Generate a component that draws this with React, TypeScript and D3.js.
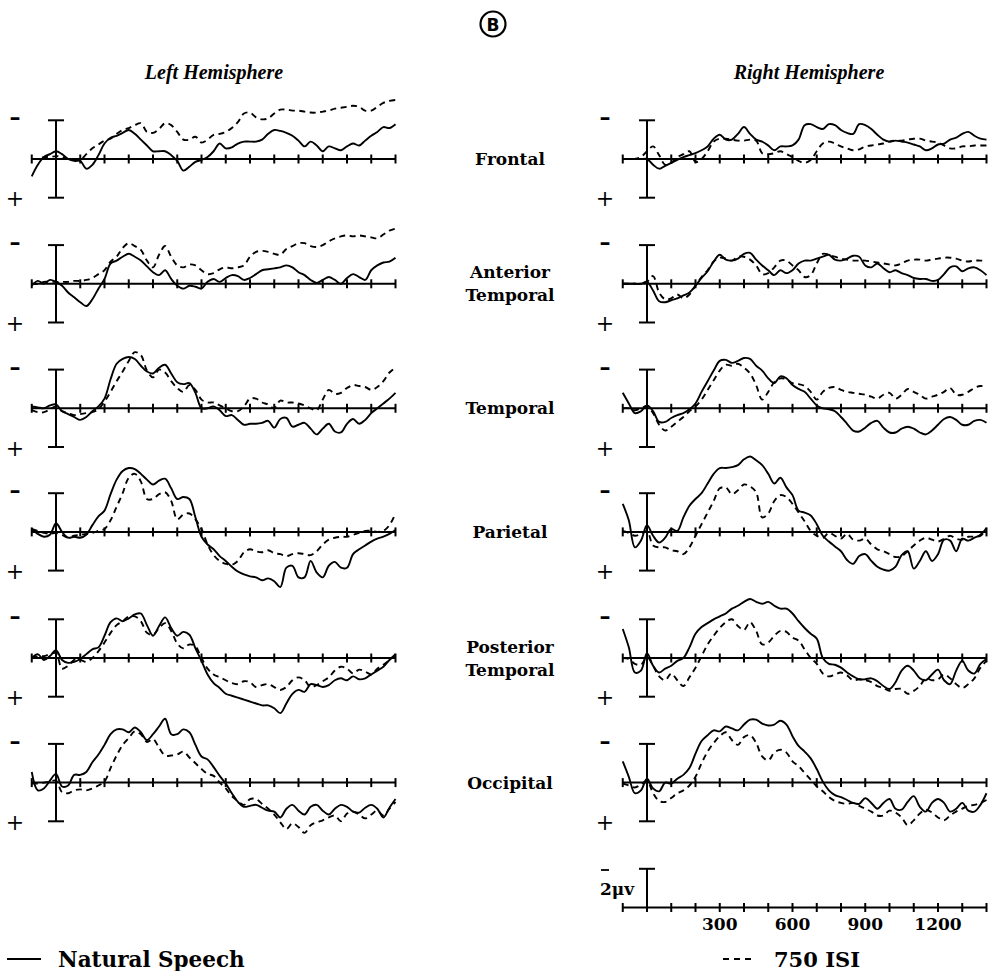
import React from "react";
import * as d3 from "d3";

// ---- categories / labels ----
const times = d3.range(-100, 1401, 25); // sample grid (ms)
const tickTimes = d3.range(-100, 1401, 100);
const regionLabels = [["Frontal"], ["Anterior", "Temporal"], ["Temporal"], ["Parietal"], ["Posterior", "Temporal"], ["Occipital"]];
const hemisphereLabels = ["Left Hemisphere", "Right Hemisphere"];
const legendLabels = ["Natural Speech", "750 ISI"];
const scaleTickLabels = [300, 600, 900, 1200];
const scaleUnitLabel = "2\u03bcv";
const panelLetter = "B";

// ---- series values (µV, negative plotted up) ----
const frontalLeftSpeech = [0.9, 0.3, -0.1, -0.25, -0.4, -0.25, 0, 0.1, 0.1, 0.5, 0.3, -0.2, -0.8, -1.1, -1.2, -1.35, -1.5, -1.3, -1.0, -0.7, -0.4, -0.4, -0.4, -0.2, 0.1, 0.6, 0.4, 0.15, 0.05, -0.1, -0.4, -0.8, -0.55, -0.6, -0.8, -0.9, -0.9, -0.9, -1.0, -1.3, -1.5, -1.45, -1.35, -1.2, -0.95, -0.65, -0.9, -0.7, -0.4, -0.65, -0.55, -0.45, -0.65, -0.8, -0.7, -0.95, -1.2, -1.4, -1.65, -1.6, -1.8];
const frontalLeftISI = [0, 0, -0.1, -0.1, -0.15, -0.1, 0, 0.05, 0.05, -0.25, -0.55, -0.75, -0.95, -1.05, -1.3, -1.5, -1.6, -1.75, -1.85, -1.4, -1.35, -1.55, -1.85, -1.75, -1.4, -1.0, -1.0, -1.15, -0.85, -1.0, -1.25, -1.3, -1.4, -1.6, -1.9, -2.35, -2.4, -2.15, -2.05, -2.1, -2.35, -2.55, -2.55, -2.5, -2.5, -2.45, -2.4, -2.4, -2.45, -2.5, -2.6, -2.65, -2.7, -2.75, -2.7, -2.5, -2.5, -2.7, -2.9, -3.0, -3.05];
const frontalRightSpeech = [0, 0, 0, 0, 0, 0.3, 0.5, 0.35, 0.2, 0.05, -0.1, -0.2, -0.3, -0.45, -0.65, -1.05, -1.25, -1.0, -1.0, -1.3, -1.65, -1.3, -1.0, -0.9, -0.7, -0.45, -0.65, -0.65, -0.7, -1.0, -1.75, -1.8, -1.65, -1.55, -1.8, -1.75, -1.5, -1.35, -1.3, -1.8, -1.75, -1.55, -1.25, -1.0, -0.9, -0.95, -0.9, -0.85, -0.75, -0.65, -0.45, -0.55, -0.75, -0.8, -1.0, -1.1, -1.3, -1.4, -1.2, -1.05, -1.0];
const frontalRightISI = [0, 0, 0, -0.1, -0.4, -0.65, -0.2, 0.3, 0.2, -0.1, -0.25, -0.4, 0.15, 0, -0.4, -0.9, -1.05, -1.05, -1.0, -0.95, -0.95, -1.0, -0.95, -0.3, -0.25, -0.3, -0.4, -0.25, -0.1, 0.1, 0.2, 0.05, -0.4, -0.8, -0.9, -0.8, -0.65, -0.55, -0.45, -0.5, -0.65, -0.7, -0.75, -0.8, -0.9, -0.95, -0.95, -1.0, -1.05, -1.05, -0.95, -0.9, -0.85, -0.7, -0.55, -0.55, -0.65, -0.65, -0.7, -0.7, -0.7];

const antTempLeftSpeech = [0.1, -0.15, 0, -0.2, -0.1, 0.1, 0.45, 0.7, 0.95, 1.15, 0.8, 0.25, -0.25, -1.05, -1.2, -1.4, -1.55, -1.4, -1.2, -0.9, -0.6, -0.45, -0.7, -0.25, 0.1, 0.25, 0.1, 0.15, 0.25, -0.1, -0.25, -0.1, -0.3, -0.45, -0.4, -0.2, -0.3, -0.5, -0.7, -0.75, -0.8, -0.85, -0.95, -0.85, -0.6, -0.45, -0.2, -0.05, -0.2, -0.35, -0.2, 0, -0.3, -0.5, -0.35, -0.2, -0.7, -0.95, -1.1, -1.15, -1.35];
const antTempLeftISI = [0, 0, -0.1, -0.1, -0.1, -0.1, -0.1, -0.15, -0.15, -0.2, -0.3, -0.5, -0.7, -1.15, -1.4, -1.85, -2.1, -1.95, -1.75, -1.2, -0.85, -1.5, -1.95, -1.4, -0.95, -0.85, -1.0, -0.95, -0.7, -0.5, -0.55, -0.75, -0.85, -0.8, -0.85, -0.95, -1.4, -1.65, -1.7, -1.65, -1.55, -1.5, -1.8, -1.95, -2.1, -2.1, -1.95, -1.9, -2.0, -2.2, -2.35, -2.45, -2.5, -2.45, -2.5, -2.45, -2.4, -2.35, -2.55, -2.75, -2.85];
const antTempRightSpeech = [0, 0, 0, 0, -0.1, 0.35, 0.9, 0.95, 0.85, 0.75, 0.6, 0.45, 0.1, -0.3, -0.65, -1.15, -1.5, -1.25, -1.2, -1.3, -1.55, -1.6, -1.25, -0.95, -0.7, -0.45, -0.7, -0.55, -0.7, -1.05, -1.2, -1.2, -1.3, -1.4, -1.5, -1.25, -1.2, -1.3, -1.45, -1.4, -0.95, -0.85, -1.05, -0.8, -0.6, -0.7, -0.55, -0.45, -0.3, -0.25, -0.25, -0.15, -0.2, -0.5, -0.85, -0.9, -0.65, -0.8, -0.85, -0.7, -0.45];
const antTempRightISI = [0, 0, 0, 0, -0.1, -0.4, 0.45, 0.8, 0.75, 0.55, 0.75, 0.55, 0.1, -0.35, -0.7, -1.15, -1.35, -1.3, -1.2, -1.4, -1.4, -1.25, -0.95, -0.5, -0.55, -0.85, -1.2, -1.2, -0.95, -0.7, -0.35, -0.45, -1.05, -1.55, -1.5, -1.4, -1.3, -1.25, -1.2, -1.2, -1.2, -1.15, -1.1, -1.05, -1.0, -0.95, -1.05, -1.2, -1.25, -1.25, -1.2, -1.25, -1.3, -1.35, -1.35, -1.3, -1.2, -1.15, -1.2, -1.2, -1.2];

const tempLeftSpeech = [-0.1, -0.05, 0, -0.15, -0.2, 0.15, 0.3, 0.45, 0.6, 0.45, 0.15, -0.1, -0.5, -1.5, -2.3, -2.55, -2.65, -2.55, -2.2, -1.9, -1.8, -2.1, -2.25, -1.8, -1.35, -1.25, -1.3, -0.8, 0, 0, -0.1, 0.1, 0.4, 0.35, 0.6, 0.85, 0.8, 0.8, 0.75, 0.65, 1.0, 0.55, 0.5, 0.95, 0.85, 0.75, 1.05, 1.35, 1.05, 0.8, 1.2, 1.25, 0.8, 0.55, 0.8, 0.6, 0.25, 0, -0.25, -0.5, -0.8];
const tempLeftISI = [0.1, 0.2, 0.2, 0.05, -0.1, 0.15, 0.25, 0.35, 0.3, 0.25, 0.2, 0.05, -0.35, -0.85, -1.4, -1.9, -2.45, -2.9, -2.75, -1.95, -1.6, -2.0, -1.85, -1.4, -1.05, -0.85, -1.2, -0.95, -0.45, -0.3, -0.3, -0.15, 0, 0.15, 0.15, -0.1, -0.5, -0.5, -0.3, -0.2, 0, -0.4, -0.3, -0.3, -0.25, -0.15, 0, 0.1, -0.45, -0.95, -0.75, -0.8, -1.05, -1.2, -1.15, -1.1, -0.95, -1.1, -1.4, -1.85, -2.1];
const tempRightSpeech = [-0.8, -0.25, 0.25, 0.15, -0.15, 0.15, 0.7, 0.7, 0.5, 0.35, 0.25, 0.05, -0.25, -0.85, -1.4, -1.95, -2.45, -2.5, -2.35, -2.45, -2.6, -2.55, -2.2, -1.95, -1.55, -1.3, -1.65, -1.55, -1.2, -1.0, -0.85, -0.5, -0.15, 0, 0.05, 0.15, 0.45, 0.8, 1.15, 1.2, 1.0, 0.75, 0.65, 1.0, 1.25, 1.25, 1.05, 0.95, 1.05, 1.25, 1.35, 1.15, 0.85, 0.55, 0.45, 0.6, 0.85, 0.85, 0.65, 0.6, 0.75];
const tempRightISI = [0, 0, 0.1, 0, -0.1, 0.25, 0.85, 1.15, 0.95, 0.7, 0.45, 0.15, -0.1, -0.45, -0.95, -1.45, -1.95, -2.25, -2.2, -2.3, -2.1, -1.8, -1.2, -0.45, -0.85, -1.35, -1.55, -1.5, -1.3, -1.25, -1.15, -0.85, -0.45, -0.85, -1.05, -1.1, -0.95, -0.85, -0.8, -0.75, -0.7, -0.6, -0.5, -0.7, -0.8, -0.5, -0.7, -1.0, -0.85, -0.7, -0.5, -0.6, -0.7, -0.85, -1.05, -0.7, -0.7, -0.85, -1.05, -1.15, -1.1];

const parLeftSpeech = [-0.15, 0.1, 0.25, 0.15, -0.45, 0, 0.3, 0.25, 0.3, 0.15, -0.35, -0.8, -1.1, -1.95, -2.7, -3.15, -3.3, -3.25, -3.0, -2.7, -2.45, -2.65, -2.75, -2.25, -1.7, -1.8, -1.7, -0.75, 0.25, 0.65, 0.9, 1.25, 1.5, 1.8, 2.05, 2.2, 2.3, 2.35, 2.5, 2.4, 2.55, 2.85, 1.85, 1.75, 2.35, 2.35, 1.5, 2.1, 2.35, 1.75, 1.55, 1.85, 1.85, 1.15, 0.9, 0.7, 0.5, 0.35, 0.25, 0.1, -0.1];
const parLeftISI = [-0.15, -0.05, 0.05, 0.1, 0.05, 0.15, 0.3, 0.2, 0.15, 0.1, 0.05, -0.05, -0.15, -0.6, -1.3, -2.0, -2.8, -3.0, -2.6, -1.7, -1.7, -1.95, -2.05, -1.6, -0.65, -0.9, -0.95, -0.65, -0.15, 0.65, 1.2, 1.5, 1.65, 1.7, 1.5, 1.05, 0.9, 1.0, 1.05, 0.95, 1.1, 1.15, 1.25, 1.15, 1.1, 1.15, 1.2, 1.0, 0.65, 0.4, 0.3, 0.25, 0.25, 0.15, 0.05, -0.05, -0.05, 0, -0.05, -0.35, -0.95];
const parRightSpeech = [-1.45, -0.6, 0.8, 0.45, -0.35, 0.2, 0.55, 0.3, -0.15, -0.05, -0.75, -1.35, -1.7, -2.0, -2.5, -3.0, -3.3, -3.3, -3.35, -3.45, -3.75, -3.9, -3.7, -3.45, -3.0, -2.5, -2.8, -2.3, -1.9, -1.1, -1.0, -0.85, -0.4, 0.2, 0.5, 0.75, 1.0, 1.45, 1.65, 1.25, 1.15, 1.5, 1.8, 1.95, 2.0, 1.8, 1.2, 1.0, 1.9, 1.5, 1.0, 1.5, 1.15, 0.4, 0.45, 1.0, 0.35, 0.45, 0.3, 0.15, -0.2];
const parRightISI = [-0.05, 0.05, 0.2, 0.1, -0.05, 0.7, 0.8, 0.8, 0.95, 1.0, 1.15, 0.8, 0.2, -0.4, -1.0, -1.6, -2.25, -2.3, -1.95, -2.15, -2.45, -2.35, -2.05, -0.75, -0.95, -1.6, -1.9, -1.8, -1.45, -1.0, -0.55, -0.05, 0.2, 0.3, 0.05, 0.2, 0.35, 0.1, 0.4, 0.45, 0.35, 0.65, 0.9, 1.0, 1.15, 1.3, 1.25, 1.0, 0.7, 0.45, 0.3, 0.4, 0.5, 0.35, 0.2, 0.35, 0.4, 0.25, 0.25, 0.2, -0.05];

const postTempLeftSpeech = [0, -0.2, 0.1, -0.1, -0.4, 0.1, 0.25, 0.2, 0.05, -0.2, -0.45, -0.55, -1.15, -1.85, -2.05, -1.9, -2.05, -2.25, -2.3, -1.7, -1.15, -1.65, -2.1, -1.55, -1.15, -1.35, -1.2, -0.5, 0.15, 0.85, 1.3, 1.55, 1.85, 1.95, 2.05, 2.15, 2.25, 2.35, 2.45, 2.45, 2.6, 2.85, 2.35, 1.85, 1.65, 1.75, 1.35, 1.4, 1.5, 1.4, 1.15, 1.05, 1.15, 0.95, 1.1, 1.05, 0.85, 0.65, 0.45, 0.1, -0.15];
const postTempLeftISI = [0, -0.1, -0.1, -0.2, -0.25, 0.55, 0.4, 0.1, 0.1, 0.2, 0, -0.35, -0.8, -1.3, -1.7, -1.9, -2.15, -2.15, -1.9, -1.3, -1.2, -1.55, -1.8, -1.4, -0.75, -0.5, -0.7, -0.6, 0, 0.55, 0.85, 1.0, 1.15, 1.3, 1.35, 1.2, 1.25, 1.5, 1.4, 1.35, 1.5, 1.65, 1.5, 1.15, 1.0, 1.15, 1.5, 1.4, 1.2, 1.0, 0.65, 0.45, 0.55, 0.8, 0.6, 0.7, 0.85, 0.55, 0.35, 0.1, -0.2];
const postTempRightSpeech = [-1.5, -0.55, 0.75, 0.65, -0.25, 0.4, 0.75, 0.55, 0.4, 0.15, 0, -0.55, -1.25, -1.6, -1.8, -2.0, -2.15, -2.3, -2.55, -2.7, -2.9, -3.05, -2.9, -2.8, -2.9, -2.7, -2.55, -2.55, -2.3, -1.9, -1.55, -1.25, -1.0, 0, 0.3, 0.35, 0.5, 0.75, 0.95, 1.1, 1.1, 1.05, 1.2, 1.45, 1.6, 1.25, 0.65, 0.4, 0.65, 1.05, 1.15, 0.85, 0.6, 1.15, 1.35, 0.65, 0.15, 0.65, 0.8, 0.3, 0.05];
const postTempRightISI = [0, 0.05, 0.3, 0.35, -0.05, 0.4, 0.95, 1.15, 0.8, 1.15, 1.45, 1.0, 0.5, -0.1, -0.7, -1.15, -1.55, -1.85, -2.0, -1.65, -1.45, -1.85, -1.4, -0.7, -0.8, -1.15, -1.4, -1.35, -1.05, -0.9, -0.45, 0, 0.3, 0.8, 0.95, 0.85, 0.75, 0.9, 1.15, 1.1, 1.15, 1.25, 1.45, 1.55, 1.7, 1.6, 1.6, 1.85, 1.7, 1.45, 1.05, 1.15, 1.1, 0.85, 1.05, 1.35, 1.55, 1.35, 1.05, 0.5, 0.15];

const occLeftSpeech = [-0.55, 0.4, 0.3, -0.1, -0.45, 0.2, 0.15, -0.4, -0.4, -0.55, -1.05, -1.45, -1.95, -2.5, -2.75, -2.75, -2.6, -2.85, -2.6, -2.2, -2.5, -2.9, -3.3, -2.5, -2.5, -2.75, -2.6, -1.95, -1.35, -1.2, -0.8, -0.35, 0.05, 0.55, 1.0, 1.25, 1.2, 1.15, 1.3, 1.45, 1.5, 1.8, 1.35, 1.15, 1.45, 1.65, 1.25, 1.15, 1.45, 1.65, 1.35, 1.15, 1.25, 1.5, 1.55, 1.3, 1.15, 1.35, 1.8, 1.3, 0.85];
const occLeftISI = [0.05, 0.05, 0, -0.05, -0.1, 0.5, 0.55, 0.4, 0.35, 0.4, 0.3, 0.15, -0.05, -0.75, -1.4, -1.95, -2.3, -2.65, -2.5, -2.1, -2.25, -1.8, -1.4, -1.4, -1.45, -1.6, -1.3, -1.0, -0.7, -0.45, -0.35, 0, 0.3, 0.7, 0.95, 1.15, 0.85, 0.85, 1.1, 1.35, 1.65, 2.05, 2.4, 2.1, 2.3, 2.6, 2.2, 2.05, 1.95, 1.8, 1.7, 2.0, 1.6, 1.5, 1.65, 1.85, 1.65, 1.45, 1.7, 1.35, 1.0];
const occRightSpeech = [-1.1, -0.3, 0.55, 0.4, -0.2, 0.3, 0.45, 0, 0.05, -0.2, -0.4, -0.75, -1.5, -2.15, -2.45, -2.7, -2.65, -2.9, -2.8, -2.7, -3.0, -3.25, -3.25, -3.05, -2.95, -3.0, -3.2, -3.0, -2.4, -1.9, -1.6, -1.25, -0.7, -0.05, 0.4, 0.65, 0.75, 0.9, 1.05, 1.1, 0.8, 1.05, 1.35, 1.05, 0.85, 1.35, 1.4, 1.0, 0.7, 1.25, 1.5, 1.05, 0.85, 1.05, 1.5, 1.35, 1.05, 1.45, 1.5, 1.15, 0.55];
const occRightISI = [0.05, 0.15, 0.25, 0.1, -0.1, 0.55, 0.95, 1.0, 0.8, 0.55, 0.4, 0.15, -0.3, -1.0, -1.6, -2.05, -2.4, -2.6, -2.2, -1.95, -2.35, -2.45, -2.05, -1.35, -1.15, -1.55, -1.7, -1.55, -1.1, -0.85, -0.5, -0.15, 0.2, 0.45, 0.75, 0.95, 1.05, 1.1, 1.05, 1.2, 1.35, 1.5, 1.7, 1.7, 1.45, 1.55, 1.8, 2.2, 1.95, 1.6, 1.4, 1.55, 1.8, 1.95, 1.7, 1.5, 1.35, 1.2, 1.15, 1.05, 0.9];

const leftSeries = [
  [frontalLeftSpeech, frontalLeftISI],
  [antTempLeftSpeech, antTempLeftISI],
  [tempLeftSpeech, tempLeftISI],
  [parLeftSpeech, parLeftISI],
  [postTempLeftSpeech, postTempLeftISI],
  [occLeftSpeech, occLeftISI],
];
const rightSeries = [
  [frontalRightSpeech, frontalRightISI],
  [antTempRightSpeech, antTempRightISI],
  [tempRightSpeech, tempRightISI],
  [parRightSpeech, parRightISI],
  [postTempRightSpeech, postTempRightISI],
  [occRightSpeech, occRightISI],
];

// ---- layout ----
const W = 992;
const H = 971;
const rowAxisY = [159, 283.8, 408.3, 531.9, 658, 782.6];
const scaleAxisY = 907.5;
const HALF = 38.7; // px for 2 µV
const TICK = 4.5;
const CAP = 8;
const SERIF = "'DejaVu Serif', serif";
const TIMES = "'Liberation Serif', 'Times New Roman', serif";

const xLeft = d3.scaleLinear().domain([-100, 1400]).range([31.75, 395.5]);
const xRight = d3.scaleLinear().domain([-100, 1400]).range([622.75, 986.5]);

function Axis({ x, y0, full = true }: { x: d3.ScaleLinear<number, number>; y0: number; full?: boolean }) {
  const x0 = x(0);
  return (
    <g stroke="#000" strokeWidth={2} fill="none">
      <line x1={x(-100)} x2={x(1400)} y1={y0} y2={y0} />
      {tickTimes.filter((t) => t !== 0).map((t) => (
        <line key={t} x1={x(t)} x2={x(t)} y1={y0 - TICK} y2={y0 + TICK} />
      ))}
      {full ? (
        <>
          <line x1={x0} x2={x0} y1={y0 - HALF} y2={y0 + HALF} />
          <line x1={x0 - CAP} x2={x0 + CAP} y1={y0 - HALF} y2={y0 - HALF} />
          <line x1={x0 - CAP} x2={x0 + CAP} y1={y0 + HALF} y2={y0 + HALF} />
        </>
      ) : (
        <>
          <line x1={x0} x2={x0} y1={y0 - HALF} y2={y0 + TICK} />
          <line x1={x0 - CAP} x2={x0 + CAP} y1={y0 - HALF} y2={y0 - HALF} />
        </>
      )}
    </g>
  );
}

function Panel({ x, y0, series, signX }: { x: d3.ScaleLinear<number, number>; y0: number; series: number[][]; signX: number }) {
  const y = d3.scaleLinear().domain([-2, 2]).range([y0 - HALF, y0 + HALF]);
  const line = d3
    .line<number>()
    .x((_, i) => x(times[i]))
    .y((v) => y(v))
    .curve(d3.curveCatmullRom.alpha(0.5));
  return (
    <g>
      <Axis x={x} y0={y0} />
      <text x={signX} y={y0 - HALF - 3} fontFamily={SERIF} fontWeight="bold" fontSize={22} textAnchor="middle" dominantBaseline="central">
        {"\u2013"}
      </text>
      <text x={signX} y={y0 + HALF + 1} fontFamily={SERIF} fontSize={22} textAnchor="middle" dominantBaseline="central">
        +
      </text>
      <path d={line(series[0]) || ""} fill="none" stroke="#000" strokeWidth={1.9} strokeLinejoin="round" />
      <path d={line(series[1]) || ""} fill="none" stroke="#000" strokeWidth={1.9} strokeDasharray="6,4.5" />
    </g>
  );
}

export default function App() {
  return (
    <svg
      width={W}
      height={H}
      viewBox={`0 0 ${W} ${H}`}
      style={{ position: "absolute", left: 0, top: 0, background: "#fff" }}
    >
      <rect x={0} y={0} width={W} height={H} fill="#fff" />
      {/* circled panel letter */}
      <circle cx={493} cy={24} r={12.5} fill="none" stroke="#000" strokeWidth={2.2} />
      <text x={493} y={25} fontFamily="'DejaVu Sans', sans-serif" fontWeight="bold" fontSize={17} textAnchor="middle" dominantBaseline="central">
        {panelLetter}
      </text>

      {/* hemisphere headers */}
      <text x={214} y={79} fontFamily={TIMES} fontStyle="italic" fontWeight="bold" fontSize={20} textAnchor="middle">
        {hemisphereLabels[0]}
      </text>
      <text x={809} y={79} fontFamily={TIMES} fontStyle="italic" fontWeight="bold" fontSize={20} textAnchor="middle">
        {hemisphereLabels[1]}
      </text>

      {rowAxisY.map((y0, i) => (
        <g key={i}>
          <Panel x={xLeft} y0={y0} series={leftSeries[i]} signX={15} />
          <Panel x={xRight} y0={y0} series={rightSeries[i]} signX={605} />
          {regionLabels[i].map((lab, j) => {
            const n = regionLabels[i].length;
            const yy = y0 + (j - (n - 1) / 2) * 23 + 6;
            return (
              <text key={j} x={510} y={yy} fontFamily={SERIF} fontWeight="bold" fontSize={17} textAnchor="middle">
                {lab}
              </text>
            );
          })}
        </g>
      ))}

      {/* scale bar */}
      <Axis x={xRight} y0={scaleAxisY} full={false} />
      <line x1={601} x2={609} y1={870} y2={870} stroke="#000" strokeWidth={1.8} />
      <text x={617} y={895} fontFamily={SERIF} fontWeight="bold" fontSize={17} textAnchor="middle">
        {scaleUnitLabel}
      </text>
      {scaleTickLabels.map((t) => (
        <text key={t} x={xRight(t)} y={930} fontFamily={SERIF} fontWeight="bold" fontSize={17} textAnchor="middle">
          {t}
        </text>
      ))}

      {/* legend */}
      <line x1={7} x2={41} y1={959} y2={959} stroke="#000" strokeWidth={1.9} />
      <text x={58} y={967} fontFamily={SERIF} fontWeight="bold" fontSize={21.5}>
        {legendLabels[0]}
      </text>
      <line x1={723} x2={753} y1={959} y2={959} stroke="#000" strokeWidth={1.9} strokeDasharray="6,5" />
      <text x={774} y={967} fontFamily={SERIF} fontWeight="bold" fontSize={21}>
        {legendLabels[1]}
      </text>
    </svg>
  );
}
